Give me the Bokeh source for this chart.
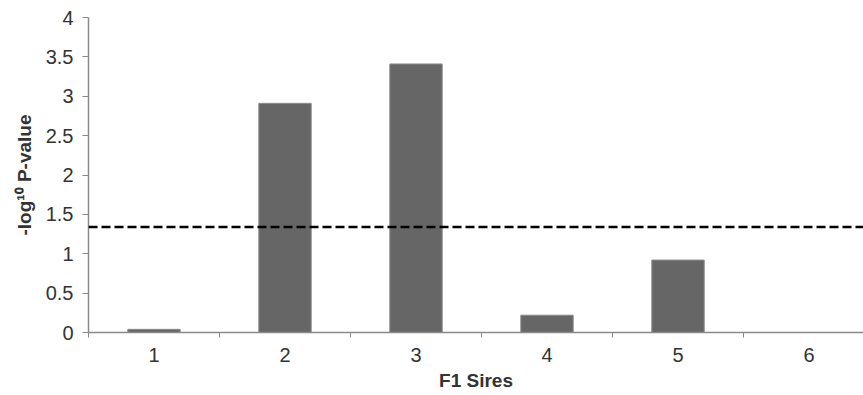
from bokeh.plotting import figure
from bokeh.models import FixedTicker, Span, Range1d, ColumnDataSource
from bokeh.embed import file_html
from bokeh.resources import INLINE

sires = [1, 2, 3, 4, 5, 6]
sire_labels = ["1", "2", "3", "4", "5", "6"]
neg_log_p = [0.04, 2.91, 3.41, 0.22, 0.92, 0.0]
threshold = 1.34
y_ticks = [0, 0.5, 1, 1.5, 2, 2.5, 3, 3.5, 4]
y_tick_labels = ["0", "0.5", "1", "1.5", "2", "2.5", "3", "3.5", "4"]

src = ColumnDataSource(dict(x=sires, top=neg_log_p))

p = figure(width=863, height=393, output_backend="svg", toolbar_location=None,
           x_range=Range1d(0.5, 6.416), y_range=Range1d(0, 4),
           min_border_left=88, min_border_right=0, min_border_top=17, min_border_bottom=40)

p.vbar(x="x", top="top", width=0.4, source=src, fill_color="#666666",
       line_color="#8c8c8c", line_width=1)

p.add_layout(Span(location=threshold, dimension="width", line_color="#000000",
                  line_width=2.5, line_dash="9 4"))

p.xgrid.visible = False
p.ygrid.visible = False
p.outline_line_color = None

font = "Liberation Sans"
ax_col = "#8a8a8a"
txt_col = "#333333"

p.xaxis.ticker = FixedTicker(ticks=sires, minor_ticks=[s - 0.5 for s in sires] + [6.5])
p.xaxis.major_label_overrides = {s: l for s, l in zip(sires, sire_labels)}
p.xaxis.major_tick_line_color = None
p.xaxis.minor_tick_line_color = ax_col
p.xaxis.minor_tick_out = 5
p.xaxis.minor_tick_in = 0
p.xaxis.axis_line_color = ax_col
p.xaxis.axis_line_width = 1.5
p.xaxis.major_label_text_font = font
p.xaxis.major_label_text_font_size = "20px"
p.xaxis.major_label_text_color = txt_col
p.xaxis.major_label_standoff = 9
p.xaxis.axis_label = "F1 Sires"
p.xaxis.axis_label_text_font = font
p.xaxis.axis_label_text_font_size = "19px"
p.xaxis.axis_label_text_font_style = "bold"
p.xaxis.axis_label_text_color = txt_col
p.xaxis.axis_label_standoff = 5

p.yaxis.ticker = FixedTicker(ticks=y_ticks, minor_ticks=[])
p.yaxis.major_label_overrides = {t: l for t, l in zip(y_ticks, y_tick_labels)}
p.yaxis.major_tick_line_color = ax_col
p.yaxis.major_tick_out = 6
p.yaxis.major_tick_in = 0
p.yaxis.minor_tick_line_color = None
p.yaxis.axis_line_color = ax_col
p.yaxis.axis_line_width = 1.5
p.yaxis.major_label_text_font = font
p.yaxis.major_label_text_font_size = "20px"
p.yaxis.major_label_text_color = txt_col
p.yaxis.major_label_standoff = 9
p.yaxis.axis_label = "-log\u00b9\u2070 P-value"
p.yaxis.axis_label_text_font = font
p.yaxis.axis_label_text_font_size = "19px"
p.yaxis.axis_label_text_font_style = "bold"
p.yaxis.axis_label_text_color = txt_col
p.yaxis.axis_label_standoff = 8

open("out.html", "w").write(file_html(p, INLINE))
